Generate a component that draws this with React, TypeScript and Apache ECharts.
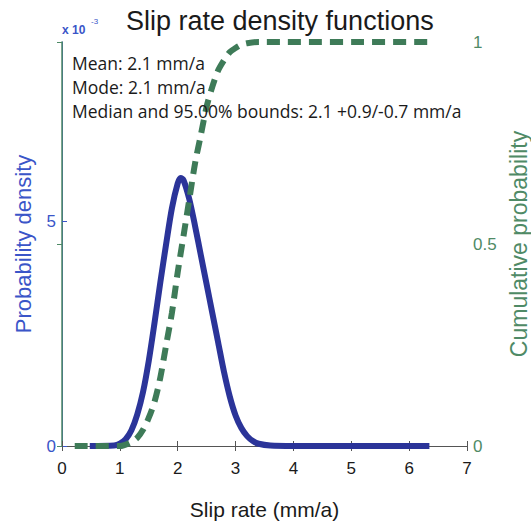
import React, { useEffect, useRef } from "react";
import * as echarts from "echarts";

const titleText = "Slip rate density functions";
const statLines = [
  "Mean: 2.1 mm/a",
  "Mode: 2.1 mm/a",
  "Median and 95.00% bounds: 2.1 +0.9/-0.7 mm/a",
];

// density (x 10^-3)
const pdfX = [0.48, 0.9, 1.0, 1.1, 1.2, 1.3, 1.4, 1.5, 1.6, 1.7, 1.8, 1.9, 2.0, 2.05, 2.1, 2.2, 2.3, 2.4, 2.5, 2.6, 2.7, 2.8, 2.9, 3.0, 3.1, 3.2, 3.3, 3.4, 3.6, 4.0, 6.35];
const pdfY = [0, 0.01, 0.05, 0.15, 0.35, 0.7, 1.2, 1.9, 2.75, 3.65, 4.5, 5.3, 5.85, 5.97, 5.92, 5.5, 4.9, 4.25, 3.6, 2.95, 2.3, 1.65, 1.1, 0.68, 0.4, 0.22, 0.11, 0.05, 0.01, 0, 0];

// cumulative probability
const cdfX = [0.22, 1.0, 1.2, 1.3, 1.4, 1.5, 1.6, 1.7, 1.8, 1.9, 2.0, 2.1, 2.2, 2.3, 2.4, 2.5, 2.6, 2.7, 2.8, 2.9, 3.0, 3.1, 3.2, 3.4, 6.35];
const cdfY = [0, 0, 0.01, 0.02, 0.04, 0.07, 0.11, 0.17, 0.25, 0.33, 0.43, 0.52, 0.61, 0.7, 0.77, 0.84, 0.89, 0.93, 0.955, 0.975, 0.985, 0.993, 0.997, 1, 1];

const BLUE = "#2b3499";
const BLUE_AX = "#3a55c8";
const GREEN = "#3e7b58";
const GREEN_AX = "#4f8a66";
const GRAY = "#555555";
const FONT = "Liberation Sans, Arial, sans-serif";

export default function App() {
  const ref = useRef<HTMLDivElement>(null);
  useEffect(() => {
    if (!ref.current) return;
    const chart = echarts.init(ref.current, null, { renderer: "svg" });
    const pdfData = pdfX.map((x, i) => [x, pdfY[i]]);
    const cdfData = cdfX.map((x, i) => [x, cdfY[i]]);
    chart.setOption({
      animation: false,
      backgroundColor: "#ffffff",
      title: {
        text: titleText,
        left: 121,
        top: 2,
        textStyle: { fontFamily: FONT, fontSize: 27, fontWeight: "normal", color: "#1a1a1a" },
      },
      grid: { left: 62, right: 64, top: 42, bottom: 79, outerBoundsMode: "none", containLabel: false },
      xAxis: [
        {
          type: "value",
          min: 0,
          max: 7,
          interval: 1,
          position: "bottom",
          name: "Slip rate (mm/a)",
          nameLocation: "middle",
          nameGap: 53,
          nameTextStyle: { fontFamily: FONT, fontSize: 21, color: "#1a1a1a" },
          axisLine: { show: true, lineStyle: { color: GRAY, width: 1 } },
          axisTick: { show: true, inside: true, length: 5, lineStyle: { color: GRAY } },
          axisLabel: { fontFamily: FONT, fontSize: 17, color: "#1a1a1a", margin: 14 },
          splitLine: { show: false },
        },
        {
          type: "value",
          min: 0,
          max: 7,
          interval: 1,
          position: "top",
          axisLine: { show: true, lineStyle: { color: GRAY, width: 1 } },
          axisTick: { show: true, inside: true, length: 5, lineStyle: { color: GRAY } },
          axisLabel: { show: false },
          splitLine: { show: false },
        },
      ],
      yAxis: [
        {
          type: "value",
          min: 0,
          max: 9,
          position: "left",
          name: "Probability density",
          nameLocation: "middle",
          nameGap: 28,
          nameTextStyle: { fontFamily: FONT, fontSize: 22, color: BLUE_AX },
          axisLine: { show: true, lineStyle: { color: BLUE_AX, width: 1 } },
          axisTick: { show: true, inside: true, length: 5, customValues: [0, 5], lineStyle: { color: BLUE_AX } },
          axisLabel: { customValues: [0, 5], fontFamily: FONT, fontSize: 17, color: BLUE_AX, margin: 6 },
          splitLine: { show: false },
        },
        {
          type: "value",
          min: 0,
          max: 1,
          interval: 0.5,
          position: "right",
          name: "Cumulative probability",
          nameLocation: "middle",
          nameGap: 34,
          nameRotate: 90,
          nameTextStyle: { fontFamily: FONT, fontSize: 23, color: GREEN_AX },
          axisLine: { show: true, lineStyle: { color: GREEN_AX, width: 1.5 } },
          axisTick: { show: true, inside: true, length: 5, lineStyle: { color: GREEN_AX } },
          axisLabel: { fontFamily: FONT, fontSize: 17, color: GREEN_AX, margin: 6 },
          splitLine: { show: false },
        },
      ],
      graphic: [
        {
          type: "text",
          left: 62,
          top: 24,
          style: {
            text: "x 10",
            font: "bold 12px Liberation Sans, Arial, sans-serif",
            fill: BLUE_AX,
          },
        },
        {
          type: "text",
          left: 91,
          top: 17,
          style: {
            text: "-3",
            font: "8px Liberation Sans, Arial, sans-serif",
            fill: BLUE_AX,
          },
        },
        ...statLines.map((t, i) => ({
          type: "text",
          left: 72,
          top: 54 + i * 24,
          z: 10,
          style: {
            text: t,
            font: "17.5px Open Sans, Noto Sans, sans-serif",
            fill: "#1a1a1a",
          },
        })),
      ],
      series: [
        {
          type: "line",
          name: "pdf",
          xAxisIndex: 0,
          yAxisIndex: 0,
          data: pdfData,
          smooth: 0.3,
          showSymbol: false,
          lineStyle: { color: BLUE, width: 6, cap: "butt", join: "round" },
          z: 2,
        },
        {
          type: "line",
          name: "cdf",
          xAxisIndex: 0,
          yAxisIndex: 1,
          data: cdfData,
          smooth: 0.3,
          showSymbol: false,
          lineStyle: { color: GREEN, width: 6, type: [13, 8], cap: "butt" },
          z: 3,
        },
      ],
    });
    return () => chart.dispose();
  }, []);
  return <div ref={ref} style={{ width: 531, height: 525, position: "absolute", left: 0, top: 0 }} />;
}
